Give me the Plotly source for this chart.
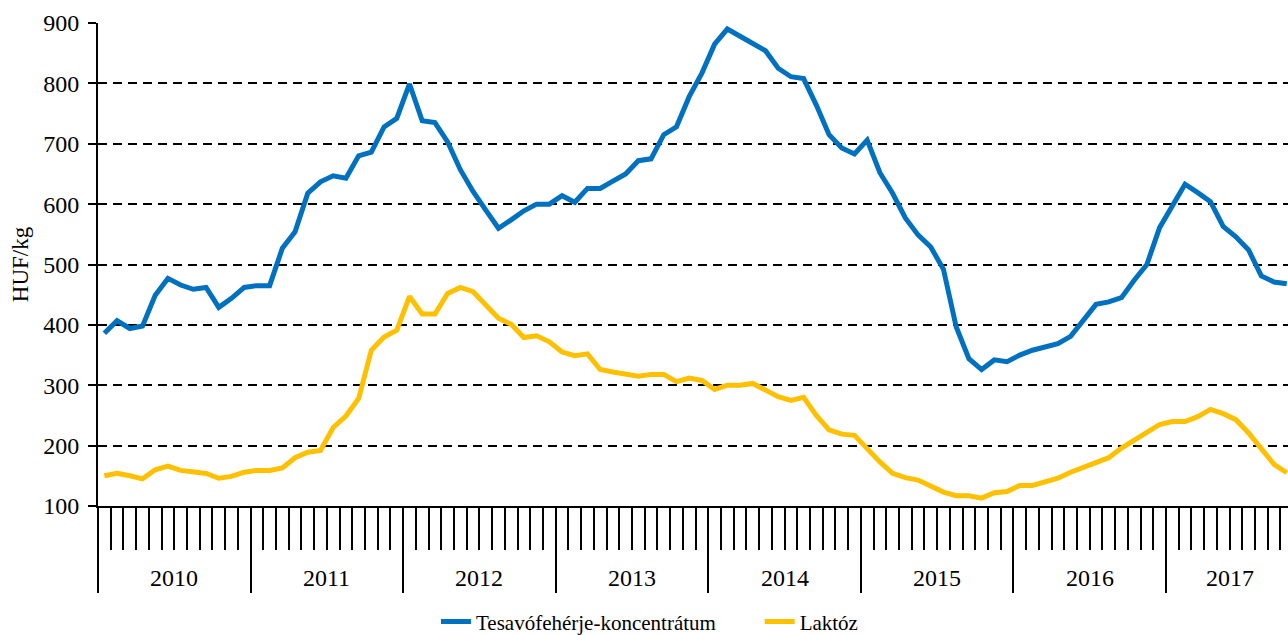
import plotly.graph_objects as go

years = ["2010", "2011", "2012", "2013", "2014", "2015", "2016", "2017"]
months_per_year = [12, 12, 12, 12, 12, 12, 12, 10]

wpc = [  # Tesavófehérje-koncentrátum, HUF/kg, monthly
    386, 407, 394, 398, 449, 477, 466, 459, 462, 429, 444, 462,
    465, 465, 527, 554, 618, 637, 647, 643, 680, 686, 728, 742,
    799, 738, 735, 703, 657, 621, 590, 560, 574, 589, 600, 600,
    614, 603, 626, 626, 638, 650, 672, 675, 715, 728, 778, 817,
    865, 890, 878, 867, 854, 825, 811, 808, 764, 715, 693, 683,
    706, 652, 618, 577, 549, 529, 492, 397, 344, 326, 342, 339,
    350, 358, 363, 369, 381, 408, 434, 438, 445, 474, 500, 561,
    599, 633, 619, 604, 563, 546, 524, 481, 471, 468,
]
lactose = [  # Laktóz, HUF/kg, monthly
    150, 154, 150, 145, 160, 166, 159, 156, 154, 146, 149, 156,
    159, 159, 163, 180, 189, 192, 230, 249, 278, 358, 380, 391,
    447, 418, 418, 452, 462, 455, 433, 411, 401, 379, 382, 372,
    355, 349, 352, 326, 322, 318, 315, 318, 318, 306, 312, 308,
    293, 300, 300, 303, 292, 281, 275, 280, 250, 226, 219, 217,
    195, 173, 154, 147, 143, 133, 123, 117, 117, 113, 122, 124,
    134, 134, 140, 146, 156, 164, 174, 180, 196, 210, 222, 235,
    240, 240, 248, 260, 253, 243, 221, 195, 169, 155,
]
names = ["Tesavófehérje-koncentrátum", "Laktóz"]
colors = ["#0070C0", "#FFC000"]
legend_ids = ["legend", "legend2"]

n = len(wpc)
x = list(range(n))

# year boundaries and centers in month-index units
starts = []
s = 0
for m in months_per_year:
    starts.append(s)
    s += m
year_bounds = [st - 0.5 for st in starts]
year_centers = [st - 0.5 + m / 2 for st, m in zip(starts, months_per_year)]
month_bounds = [i + 0.5 for i in range(n)]

FONT = "Liberation Serif"
xr = [-0.5, 93.1]

fig = go.Figure()
for vals, name, col, lg in zip([wpc, lactose], names, colors, legend_ids):
    fig.add_trace(go.Scatter(x=x, y=vals, mode="lines", name=name,
                             legend=lg, line=dict(color=col, width=5)))
# invisible helper trace for the year-tick axis
fig.add_trace(go.Scatter(x=x, y=wpc, xaxis="x2", mode="lines",
                         line=dict(width=0), opacity=0, showlegend=False,
                         hoverinfo="skip"))

leg_common = dict(orientation="h", xanchor="left", y=-0.24,
                  yanchor="middle", font=dict(size=21, family=FONT),
                  bgcolor="rgba(0,0,0,0)")

fig.update_layout(
    width=1288, height=635,
    margin=dict(l=98, r=0, t=23, b=129, autoexpand=False),
    paper_bgcolor="white", plot_bgcolor="white",
    font=dict(family=FONT, color="black", size=24),
    showlegend=True,
    legend=dict(x=0.284, **leg_common),
    legend2=dict(x=0.556, **leg_common),
    xaxis=dict(range=xr, tickmode="array", tickvals=month_bounds,
               ticks="outside", ticklen=42, tickwidth=2, tickcolor="black",
               showticklabels=False, showgrid=False, zeroline=False,
               showline=True, linewidth=2, linecolor="black",
               automargin=False),
    xaxis2=dict(range=xr, overlaying="x", anchor="y", side="bottom",
                tickmode="array", tickvals=year_bounds, ticks="outside",
                ticklen=86, tickwidth=2, tickcolor="black",
                showticklabels=False, showgrid=False, zeroline=False,
                showline=False, automargin=False),
    yaxis=dict(range=[100, 900], tickmode="linear", tick0=100, dtick=100,
               ticks="outside", ticklen=8, tickwidth=2, tickcolor="black",
               showline=True, linewidth=2, linecolor="black",
               showgrid=True, gridcolor="black", gridwidth=2,
               griddash="9px,6px", zeroline=False, automargin=False,
               ticklabelstandoff=4,
               tickfont=dict(size=24, family=FONT),
               title=dict(text="HUF/kg", font=dict(size=23, family=FONT),
                          standoff=8)),
)

for yr, cx in zip(years, year_centers):
    fig.add_annotation(x=cx, y=-0.15, xref="x", yref="paper", text=yr,
                       showarrow=False, font=dict(size=24, family=FONT),
                       xanchor="center", yanchor="middle")

# remove the default page margin so the figure fills the window exactly
fig.write_html("out.html",
               config={"displayModeBar": False},
               post_script="document.body.style.margin='0';"
                           "document.body.style.overflow='hidden';")
